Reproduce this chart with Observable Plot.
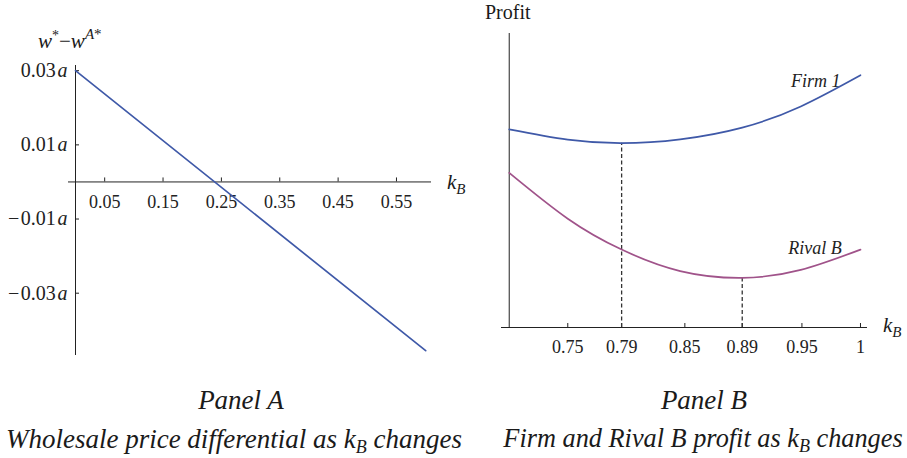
<!DOCTYPE html>
<html><head><meta charset="utf-8">
<script src="https://cdn.jsdelivr.net/npm/d3@7"></script>
<script src="https://cdn.jsdelivr.net/npm/@observablehq/plot@0.6"></script>
<style>
body{margin:0;background:#fff;}
#fig{position:relative;width:907px;height:458px;font-family:"Liberation Serif","Times New Roman",serif;color:#1a1a1a;overflow:hidden;}
#fig > svg{position:absolute;top:0;}
.lab{position:absolute;white-space:nowrap;line-height:1;}
.cap{position:absolute;white-space:nowrap;line-height:1;text-align:center;font-style:italic;}
sub,sup{line-height:0;}
</style></head><body><div id="fig"></div>
<script>
// ---------- Panel A data ----------
const kA = [0, 0.6];
const diffA = [0.03, -0.0455];
const xTicksA = [0.05, 0.15, 0.25, 0.35, 0.45, 0.55];
const yTicksA = [0.03, 0.01, -0.01, -0.03];

// ---------- Panel B data ----------
const kB = [0.70, 0.75, 0.796, 0.846, 0.899, 0.949, 1.0];
const firm1 = [67.4, 63.9, 62.7, 64.0, 68.0, 75.2, 85.8];
const rivalB = [52.6, 37.0, 26.5, 19.2, 16.9, 19.6, 26.5];
const xTicksB = [0.75, 0.796, 0.85, 0.899, 0.95, 1];
const xTickLabelsB = ["0.75", "0.79", "0.85", "0.89", "0.95", "1"];
const minK = [0.796, 0.899];
const minV = [62.7, 16.9];
const seriesNames = ["Firm 1", "Rival B"];
const labelK = [0.983, 0.984];
const labelV = [83.7, 26.8];

const BLUE = "#3f59a8";
const PURPLE = "#a0538a";
const AX = "#222";
const style = {fontFamily: '"Liberation Serif","Times New Roman",serif', fontSize: "18px", background: "transparent", overflow: "visible", color: AX};

const fig = document.getElementById("fig");

// ---------- Panel A ----------
const dataA = kA.map((k, i) => ({k, v: diffA[i]}));
const fmtA = d => (d < 0 ? "\u2212\u200a" : "") + Math.abs(d).toFixed(2) + "a";
const plotA = Plot.plot({
  width: 460, height: 370,
  marginLeft: 68, marginRight: 29, marginTop: 65, marginBottom: 15,
  x: {domain: [-0.012, 0.61], axis: null},
  y: {domain: [-0.0468, 0.0314], axis: null},
  style,
  marks: [
    Plot.ruleY([0], {stroke: AX, strokeWidth: 1}),
    Plot.ruleX([0], {stroke: AX, strokeWidth: 1}),
    Plot.ruleX(xTicksA, {x: d => d, y1: 0, y2: 0, insetTop: -4, stroke: AX}),
    Plot.ruleY(yTicksA, {y: d => d, x1: 0, x2: 0, insetRight: -4, stroke: AX}),
    Plot.text(xTicksA, {x: d => d, y: 0, text: d => d.toFixed(2), dy: 20, fontSize: 18, fill: AX}),
    Plot.text(yTicksA, {x: 0, y: d => d, text: fmtA, textAnchor: "end", dx: -8, fontSize: 20, fill: AX}),
    Plot.line(dataA, {x: "k", y: "v", stroke: BLUE, strokeWidth: 1.7})
  ]
});
plotA.style.left = "0px";
fig.appendChild(plotA);
// italic "a" in y tick labels
plotA.querySelectorAll("text").forEach(el => {
  const m = /^(\u2212\u200a)?(\d\.\d\d)a$/.exec(el.textContent);
  if (m) {
    el.textContent = (m[1] || "") + m[2] + "\u200a";
    const t = document.createElementNS("http://www.w3.org/2000/svg", "tspan");
    t.setAttribute("font-style", "italic");
    t.textContent = "a";
    el.appendChild(t);
  }
});

// ---------- Panel B ----------
const dataB = [];
kB.forEach((k, i) => { dataB.push({k, v: firm1[i], s: seriesNames[0]}); dataB.push({k, v: rivalB[i], s: seriesNames[1]}); });
const mins = minK.map((k, i) => ({k, v: minV[i]}));
const labs = seriesNames.map((s, i) => ({s, k: labelK[i], v: labelV[i]}));
const ticksB = xTicksB.map((k, i) => ({k, t: xTickLabelsB[i]}));
const plotB = Plot.plot({
  width: 447, height: 370,
  marginLeft: 41, marginRight: 40, marginTop: 33, marginBottom: 43,
  x: {domain: [0.6934, 1.006], axis: null},
  y: {domain: [0, 100], axis: null},
  color: {domain: seriesNames, range: [BLUE, PURPLE]},
  style,
  marks: [
    Plot.ruleY([0], {stroke: AX, strokeWidth: 1}),
    Plot.ruleX([0.7], {stroke: AX, strokeWidth: 1}),
    Plot.ruleX(ticksB, {x: "k", y1: 0, y2: 0, insetTop: -4, stroke: AX}),
    Plot.text(ticksB, {x: "k", y: 0, text: "t", dy: 20, fontSize: 18, fill: AX}),
    Plot.ruleX(mins, {x: "k", y1: 0, y2: "v", stroke: "#333", strokeDasharray: "4,2.5", strokeWidth: 1.3}),
    Plot.line(dataB, {x: "k", y: "v", z: "s", stroke: "s", strokeWidth: 1.7, curve: "natural"}),
    Plot.text(labs, {x: "k", y: "v", text: "s", textAnchor: "end", fontSize: 18, fontStyle: "italic", fill: AX})
  ]
});
plotB.style.left = "460px";
fig.appendChild(plotB);

// ---------- free labels ----------
function lab(html, left, top, size) {
  const d = document.createElement("div");
  d.className = "lab";
  d.style.left = left + "px"; d.style.top = top + "px"; d.style.fontSize = size + "px";
  d.innerHTML = html;
  fig.appendChild(d);
  return d;
}
lab('<i>w</i><sup style="font-size:14px;vertical-align:8px">*</sup>\u2212<i>w</i><sup style="font-size:15px;vertical-align:9px"><i>A</i>*</sup>', 38, 31, 21);
lab('Profit', 485, 2, 20);
const kSub = '<i>k</i><sub style="font-size:15px;vertical-align:-5px"><i>B</i></sub>';
lab(kSub, 447, 172, 21);
lab(kSub, 883, 315, 21);

function cap(html, center, top, size) {
  const d = document.createElement("div");
  d.className = "cap";
  d.style.left = (center - 250) + "px"; d.style.width = "500px"; d.style.top = top + "px";
  d.style.fontSize = size + "px";
  d.innerHTML = html;
  fig.appendChild(d);
}
const kCap = '<i>k</i><sub style="font-size:18px;vertical-align:-5px"><i>B</i></sub>';
cap('Panel A', 241, 387, 27);
cap('Panel B', 704, 387, 27);
cap('Wholesale price differential as ' + kCap + ' changes', 234, 426, 27);
cap('Firm and Rival B profit as ' + kCap + ' changes', 703, 426, 26.3);
</script>
</body></html>
